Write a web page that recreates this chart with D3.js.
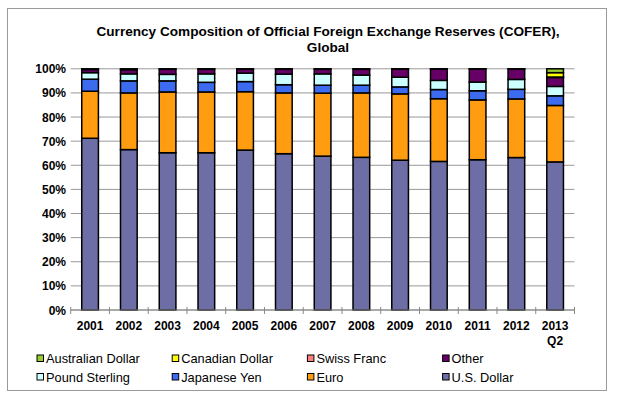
<!DOCTYPE html>
<html>
<head>
<meta charset="utf-8">
<script src="https://cdn.jsdelivr.net/npm/d3@7"></script>
<style>
  body { margin: 0; background: #fff; }
  svg { font-family: "Liberation Sans", Arial, sans-serif; }
</style>
</head>
<body>
<div id="chart"></div>
<script>
// categories and series, bottom of stack first
const years = ['2001','2002','2003','2004','2005','2006','2007','2008','2009','2010','2011','2012','2013'];
const usd   = [71.2, 66.5, 65.2, 65.2, 66.3, 64.8, 63.8, 63.3, 62.1, 61.6, 62.3, 63.2, 61.4];
const euro  = [19.5, 23.5, 25.2, 25.2, 24.2, 25.2, 26.1, 26.7, 27.5, 26.0, 24.8, 24.3, 23.4];
const yen   = [ 5.0,  5.0,  4.6,  4.0,  4.2,  3.4,  3.3,  3.2,  2.9,  3.8,  3.8,  4.0,  4.0];
const pound = [ 2.7,  2.9,  2.7,  3.5,  3.5,  4.4,  4.7,  4.2,  4.0,  3.8,  3.6,  4.1,  3.9];
const other = [ 1.3,  1.7,  2.1,  1.9,  1.6,  2.0,  1.9,  2.4,  3.4,  4.7,  5.4,  4.3,  3.7];
const swiss = [ 0.3,  0.4,  0.2,  0.2,  0.2,  0.2,  0.2,  0.2,  0.1,  0.1,  0.1,  0.1,  0.2];
const cad   = [   0,    0,    0,    0,    0,    0,    0,    0,    0,    0,    0,    0,  1.8];
const aud   = [   0,    0,    0,    0,    0,    0,    0,    0,    0,    0,    0,    0,  1.6];

const seriesNames  = ['U.S. Dollar','Euro','Japanese Yen','Pound Sterling','Other','Swiss Franc','Canadian Dollar','Australian Dollar'];
const seriesValues = [usd, euro, yen, pound, other, swiss, cad, aud];
const seriesColors = ['#6e6ea6','#ff9c0f','#3d6bf0','#ccffff','#660066','#ff8080','#ffff00','#99cc33'];

const yTicks = [0,10,20,30,40,50,60,70,80,90,100];
const title = ['Currency Composition of Official Foreign Exchange Reserves (COFER),', 'Global'];
// legend order as in the picture
const legendOrder = ['Australian Dollar','Canadian Dollar','Swiss Franc','Other','Pound Sterling','Japanese Yen','Euro','U.S. Dollar'];

const W = 621, H = 405;
const plotLeft = 70.7, plotRight = 574.5, plotTop = 68.8, plotBottom = 310;

let svg = d3.select('#chart').append('svg')
  .attr('width', W)
  .attr('height', H);

// outer frame
svg.append('rect')
  .attr('x', 7.5).attr('y', 8.5)
  .attr('width', 599).attr('height', 382)
  .attr('fill', '#fff')
  .attr('stroke', '#9a9a9a');

// title
title.forEach((t, i) => {
  svg.append('text')
    .attr('x', 328)
    .attr('y', 36 + i * 15.5)
    .attr('text-anchor', 'middle')
    .attr('font-size', 13.6)
    .attr('font-weight', 'bold')
    .text(t);
});

let x = d3.scaleBand().domain(years).range([plotLeft, plotRight]).paddingInner(0.57).paddingOuter(0.285);
let y = d3.scaleLinear().domain([0, 100]).range([plotBottom, plotTop]);

// gridlines
svg.append('g')
  .selectAll('line')
  .data(yTicks)
  .join('line')
  .attr('x1', plotLeft).attr('x2', plotRight)
  .attr('y1', d => y(d)).attr('y2', d => y(d))
  .attr('stroke', '#999')
  .attr('stroke-width', 1);

// y labels
svg.append('g')
  .selectAll('text')
  .data(yTicks)
  .join('text')
  .attr('x', 66)
  .attr('y', d => y(d) + 4.5)
  .attr('text-anchor', 'end')
  .attr('font-size', 12)
  .attr('font-weight', 'bold')
  .text(d => d + '%');

// stacked data
let table = years.map((yr, i) => {
  let row = {year: yr};
  seriesNames.forEach((n, k) => { row[n] = seriesValues[k][i]; });
  return row;
});
let stacked = d3.stack().keys(seriesNames)(table);

let layers = svg.append('g')
  .selectAll('g')
  .data(stacked)
  .join('g')
  .attr('fill', (d, i) => seriesColors[i]);

layers.selectAll('rect')
  .data(d => d.filter(p => p[1] - p[0] > 0))
  .join('rect')
  .attr('x', d => x(d.data.year))
  .attr('y', d => y(d[1]))
  .attr('width', x.bandwidth())
  .attr('height', d => y(d[0]) - y(d[1]))
  .attr('stroke', '#000')
  .attr('stroke-width', 1.5);

// x axis line with ticks between categories
let step = x.step();
svg.append('line')
  .attr('x1', plotLeft).attr('x2', plotRight)
  .attr('y1', plotBottom).attr('y2', plotBottom)
  .attr('stroke', '#888');
svg.append('g')
  .selectAll('line')
  .data(d3.range(years.length + 1))
  .join('line')
  .attr('x1', i => plotLeft + i * step).attr('x2', i => plotLeft + i * step)
  .attr('y1', plotBottom - 3).attr('y2', plotBottom + 4)
  .attr('stroke', '#888');

// year labels
svg.append('g')
  .selectAll('text')
  .data(years)
  .join('text')
  .attr('x', d => x(d) + x.bandwidth() / 2)
  .attr('y', 329.5)
  .attr('text-anchor', 'middle')
  .attr('font-size', 12)
  .attr('font-weight', 'bold')
  .text(d => d);
svg.append('text')
  .attr('x', x('2013') + x.bandwidth() / 2)
  .attr('y', 344.5)
  .attr('text-anchor', 'middle')
  .attr('font-size', 12)
  .attr('font-weight', 'bold')
  .text('Q2');

// legend
let legend = svg.append('g')
  .selectAll('g')
  .data(legendOrder)
  .join('g')
  .attr('transform', (d, i) => 'translate(' + (37 + (i % 4) * 135.2) + ',' + (358.5 + Math.floor(i / 4) * 18.5) + ')');

legend.append('rect')
  .attr('x', 0).attr('y', -3.5)
  .attr('width', 6.5).attr('height', 6.5)
  .attr('fill', d => seriesColors[seriesNames.indexOf(d)])
  .attr('stroke', '#000')
  .attr('stroke-width', 1);

legend.append('text')
  .attr('x', 9)
  .attr('y', 4.5)
  .attr('font-size', 12.8)
  .text(d => d);
</script>
</body>
</html>
